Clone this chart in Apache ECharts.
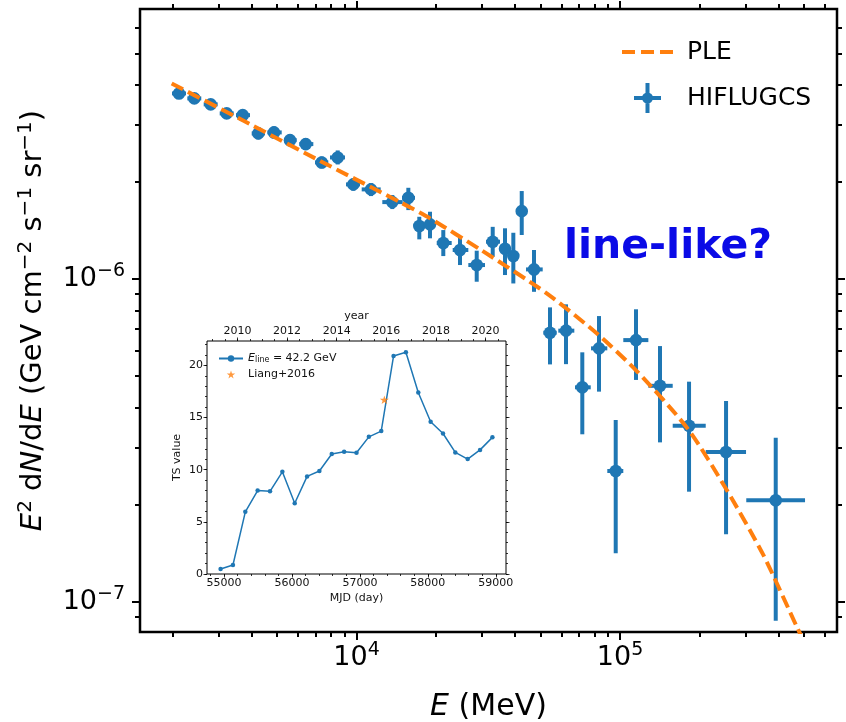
<!DOCTYPE html>
<html>
<head>
<meta charset="utf-8">
<script src="https://cdn.jsdelivr.net/npm/echarts@6.0.0/dist/echarts.min.js"></script>
<style>
html, body { margin: 0; padding: 0; background: #fff; }
#container { width: 846px; height: 722px; }
</style>
</head>
<body>
<div id="container"></div>
<script>
// ---- spectrum (HIFLUGCS stacked), E in MeV, E^2 dN/dE in GeV cm^-2 s^-1 sr^-1
var energy   = [2120, 2424, 2797, 3217, 3700, 4240, 4863, 5593, 6417, 7379, 8487, 9725, 11350, 13675, 15730, 17310, 19010, 21350, 24710, 28590, 32880, 36610, 39370, 42370, 47170, 54250, 62390, 71930, 83240, 96320, 115000, 141830, 182800, 252600, 389900];
var energyLo = [1994, 2280, 2631, 3026, 3489, 4002, 4587, 5308, 6066, 6959, 7932, 9125, 10465, 12530, 14885, 16672, 18197, 20159, 23177, 26570, 31010, 35040, 37900, 41000, 43990, 51160, 58320, 67490, 77630, 89490, 102920, 128100, 158490, 211500, 301400];
var energyHi = [2254, 2576, 2973, 3420, 3943, 4495, 5202, 5931, 6857, 7816, 9045, 10310, 12354, 14975, 16672, 18040, 19860, 22975, 26570, 30740, 35040, 38230, 40800, 43700, 50890, 57520, 67080, 77430, 89490, 102920, 128100, 158490, 211500, 300800, 503700];
var flux   = [3.757e-6, 3.626e-6, 3.475e-6, 3.258e-6, 3.218e-6, 2.825e-6, 2.845e-6, 2.692e-6, 2.618e-6, 2.297e-6, 2.380e-6, 1.964e-6, 1.895e-6, 1.731e-6, 1.785e-6, 1.459e-6, 1.477e-6, 1.293e-6, 1.230e-6, 1.105e-6, 1.305e-6, 1.241e-6, 1.178e-6, 1.623e-6, 1.071e-6, 6.82e-7, 6.92e-7, 4.62e-7, 6.10e-7, 2.544e-7, 6.47e-7, 4.67e-7, 3.514e-7, 2.913e-7, 2.065e-7];
var fluxLo = [3.625e-6, 3.499e-6, 3.353e-6, 3.144e-6, 3.105e-6, 2.707e-6, 2.726e-6, 2.579e-6, 2.508e-6, 2.201e-6, 2.264e-6, 1.877e-6, 1.807e-6, 1.647e-6, 1.635e-6, 1.327e-6, 1.337e-6, 1.178e-6, 1.105e-6, 9.81e-7, 1.172e-6, 1.029e-6, 9.69e-7, 1.369e-6, 9.13e-7, 5.44e-7, 5.45e-7, 3.305e-7, 4.48e-7, 1.415e-7, 4.87e-7, 3.12e-7, 2.195e-7, 1.621e-7, 8.75e-8];
var fluxHi = [3.893e-6, 3.758e-6, 3.601e-6, 3.376e-6, 3.335e-6, 2.948e-6, 2.969e-6, 2.810e-6, 2.732e-6, 2.397e-6, 2.502e-6, 2.050e-6, 1.982e-6, 1.820e-6, 1.917e-6, 1.559e-6, 1.616e-6, 1.418e-6, 1.346e-6, 1.224e-6, 1.451e-6, 1.436e-6, 1.391e-6, 1.873e-6, 1.230e-6, 8.17e-7, 8.35e-7, 5.93e-7, 7.68e-7, 3.66e-7, 8.06e-7, 6.20e-7, 4.81e-7, 4.19e-7, 3.226e-7];

// PLE model curve
var pleEnergy = [1989, 3943, 7932, 14630, 19010, 29420, 52700, 81560, 115700, 181200, 254100, 349800, 468300, 494900];
var pleFlux   = [4.035e-6, 3.018e-6, 2.238e-6, 1.731e-6, 1.541e-6, 1.236e-6, 9.03e-7, 6.79e-7, 5.19e-7, 3.43e-7, 2.222e-7, 1.398e-7, 8.39e-8, 7.63e-8];

// ---- inset: TS of the 42.2 GeV line vs time
var mjd = [54950, 55132, 55314, 55495, 55677, 55859, 56041, 56223, 56404, 56586, 56768, 56950, 57132, 57314, 57495, 57677, 57859, 58041, 58223, 58404, 58586, 58768, 58950];
var tsValue = [0.48, 0.86, 5.96, 8.0, 7.93, 9.8, 6.78, 9.36, 9.87, 11.5, 11.72, 11.62, 13.15, 13.7, 20.9, 21.27, 17.4, 14.6, 13.47, 11.66, 11.02, 11.9, 13.1];
var liangMjd = [57360];
var liangTs = [16.7];

// ---- axis ticks
var xMajor = [1e4, 1e5];
var xMinor = [2000, 3000, 4000, 5000, 6000, 7000, 8000, 9000, 20000, 30000, 40000, 50000, 60000, 70000, 80000, 90000, 200000, 300000, 400000, 500000, 600000];
var yMajor = [1e-7, 1e-6];
var yMinor = [9e-8, 2e-7, 3e-7, 4e-7, 5e-7, 6e-7, 7e-7, 8e-7, 9e-7, 2e-6, 3e-6, 4e-6, 5e-6, 6e-6];
var mjdMajor = [55000, 56000, 57000, 58000, 59000];
var yearMajor = [2010, 2012, 2014, 2016, 2018, 2020];
var tsMajor = [0, 5, 10, 15, 20];

var mjdMinor = [], yearMinor = [], tsMinor = [];
for (var m = 54800; m <= 59100; m += 200) mjdMinor.push(m);
for (var yr = 2009; yr <= 2020.8; yr += 0.5) yearMinor.push(yr);
for (var t = 0; t <= 22; t += 1) tsMinor.push(t);

var xMin = 1508, xMax = 6.66e5, yMin = 8.07e-8, yMax = 6.86e-6;
var mjdMin = 54750, mjdMax = 59150, yearMin = 2008.776, yearMax = 2020.822, tsMin = 0, tsMax = 22.34;

var FONT = 'DejaVu Sans';
var BLUE = '#1f77b4', ORANGE = '#ff7f0e';

var dom = document.getElementById('container');
var myChart = echarts.init(dom);

function powLabel(v) {
    var e = Math.round(Math.log10(v));
    return '{b|10}{s|' + (e < 0 ? '\u2212' + (-e) : e) + '}';
}
var powRich = {
    b: { fontFamily: FONT, fontSize: 27, color: '#000', lineHeight: 34 },
    s: { fontFamily: FONT, fontSize: 19, color: '#000', verticalAlign: 'top', lineHeight: 19 }
};

function mainAxis(dim, pos, vals, len, withLabels) {
    return {
        gridIndex: 0, type: 'log', logBase: 10, position: pos,
        min: dim === 'x' ? xMin : yMin, max: dim === 'x' ? xMax : yMax,
        splitLine: { show: false }, axisLine: { show: false, onZero: false },
        axisTick: { show: true, customValues: vals, length: len, lineStyle: { color: '#000', width: 2 } },
        axisLabel: withLabels ? { customValues: vals, formatter: powLabel, rich: powRich, margin: dim === 'x' ? 9 : 15 } : { show: false },
        axisPointer: { show: false }
    };
}

function insetAxis(pos, min, max, vals, len, withLabels) {
    return {
        gridIndex: 1, type: 'value', position: pos, min: min, max: max,
        splitLine: { show: false }, axisLine: { show: false, onZero: false },
        axisTick: { show: true, customValues: vals, length: len, lineStyle: { color: '#000', width: 0.8 } },
        axisLabel: withLabels ? {
            customValues: vals, margin: 4, fontFamily: FONT, fontSize: 11, color: '#111',
            formatter: function (v) { return String(Math.round(v)); }
        } : { show: false },
        axisPointer: { show: false }
    };
}

var xAxes = [
    mainAxis('x', 'bottom', xMajor, 8, true),
    mainAxis('x', 'bottom', xMinor, 5, false),
    mainAxis('x', 'top', xMajor, 8, false),
    mainAxis('x', 'top', xMinor, 5, false),
    insetAxis('bottom', mjdMin, mjdMax, mjdMajor, 3.5, true),
    insetAxis('bottom', mjdMin, mjdMax, mjdMinor, 2, false),
    insetAxis('top', yearMin, yearMax, yearMajor, 3.5, true),
    insetAxis('top', yearMin, yearMax, yearMinor, 2, false)
];
xAxes[0].name = '{i|E} (MeV)';
xAxes[0].nameLocation = 'middle';
xAxes[0].nameGap = 60;
xAxes[0].nameTextStyle = { fontFamily: FONT, fontSize: 30, color: '#000', rich: { i: { fontFamily: FONT, fontSize: 30, fontStyle: 'italic', color: '#000' } } };
xAxes[4].name = 'MJD (day)';
xAxes[4].nameLocation = 'middle';
xAxes[4].nameGap = 19;
xAxes[4].nameTextStyle = { fontFamily: FONT, fontSize: 11, color: '#111' };
xAxes[6].name = 'year';
xAxes[6].nameLocation = 'middle';
xAxes[6].nameGap = 19;
xAxes[6].nameTextStyle = { fontFamily: FONT, fontSize: 11, color: '#111' };

var yAxes = [
    mainAxis('y', 'left', yMajor, 8, true),
    mainAxis('y', 'left', yMinor, 5, false),
    mainAxis('y', 'right', yMajor, 8, false),
    mainAxis('y', 'right', yMinor, 5, false),
    insetAxis('left', tsMin, tsMax, tsMajor, 3.5, true),
    insetAxis('left', tsMin, tsMax, tsMinor, 2, false),
    insetAxis('right', tsMin, tsMax, tsMajor, 3.5, false),
    insetAxis('right', tsMin, tsMax, tsMinor, 2, false)
];
yAxes[0].name = '{i|E}{s|2} d{i|N}/d{i|E} (GeV cm{s|\u22122} s{s|\u22121} sr{s|\u22121})';
yAxes[0].nameLocation = 'middle';
yAxes[0].nameGap = 83;
yAxes[0].nameRotate = 90;
yAxes[0].nameTextStyle = {
    fontFamily: FONT, fontSize: 29, color: '#000', lineHeight: 36,
    rich: {
        i: { fontFamily: FONT, fontSize: 29, fontStyle: 'italic', color: '#000', lineHeight: 36 },
        s: { fontFamily: FONT, fontSize: 20, color: '#000', verticalAlign: 'top', lineHeight: 20 }
    }
};
yAxes[4].name = 'TS value';
yAxes[4].nameLocation = 'middle';
yAxes[4].nameGap = 24;
yAxes[4].nameRotate = 90;
yAxes[4].nameTextStyle = { fontFamily: FONT, fontSize: 11, color: '#111' };

var pointData = energy.map(function (e, i) {
    return [e, flux[i], energyLo[i], energyHi[i], fluxLo[i], fluxHi[i]];
});
var pleData = pleEnergy.map(function (e, i) { return [e, pleFlux[i]]; });
var tsData = mjd.map(function (d, i) { return [d, tsValue[i]]; });
var liangData = liangMjd.map(function (d, i) { return [d, liangTs[i]]; });

var starPath = 'path://M0,-10 L2.245,-3.09 L9.51,-3.09 L3.633,1.18 L5.88,8.09 L0,3.82 L-5.88,8.09 L-3.633,1.18 L-9.51,-3.09 L-2.245,-3.09 Z';
// legend glyphs in a 51 x 30 box (tiny segments pin the box size)
var errIcon = 'path://M0,15 L0.01,15 Z M51,15 L50.99,15 Z M12,13 L39,13 L39,17 L12,17 Z M23.5,0 L27.5,0 L27.5,30 L23.5,30 Z M31,15 A5.5,5.5 0 1 1 20,15 A5.5,5.5 0 1 1 31,15 Z';
var dashIcon = 'path://M0,0 L0.01,0 Z M0,30 L0.01,30 Z M0,13 L13,13 L13,17 L0,17 Z M19,13 L32,13 L32,17 L19,17 Z M38,13 L51,13 L51,17 L38,17 Z';

option = {
    backgroundColor: '#fff',
    animation: false,
    grid: [
        { left: 140, top: 9, right: 9, bottom: 90, show: true, borderColor: '#000', borderWidth: 2.5, backgroundColor: 'transparent', containLabel: false, outerBoundsMode: 'none' },
        { left: 207, top: 341, width: 299, height: 233, show: true, borderColor: '#000', borderWidth: 1, backgroundColor: '#fff', containLabel: false, outerBoundsMode: 'none' }
    ],
    xAxis: xAxes,
    yAxis: yAxes,
    legend: [{
        data: [{ name: 'PLE', icon: dashIcon }, { name: 'HIFLUGCS', icon: errIcon }],
        orient: 'vertical', left: 617, top: 32,
        itemWidth: 51, itemHeight: 30, itemGap: 16,
        selectedMode: false,
        textStyle: { fontFamily: FONT, fontSize: 25, color: '#000', padding: [0, 0, 0, 9] }
    }, {
        data: [{ name: 'Eline' }, { name: 'Liang+2016' }],
        orient: 'vertical', left: 213, top: 348,
        itemWidth: 24, itemHeight: 8, itemGap: 5,
        selectedMode: false,
        formatter: function (n) { return n === 'Eline' ? '{i|E}{sub|line} = 42.2 GeV' : n; },
        textStyle: {
            fontFamily: FONT, fontSize: 11, color: '#111',
            rich: {
                i: { fontFamily: FONT, fontSize: 11, fontStyle: 'italic', color: '#111' },
                sub: { fontFamily: FONT, fontSize: 8, color: '#111', verticalAlign: 'bottom', lineHeight: 8 }
            }
        }
    }],
    graphic: [{
        type: 'text', left: 564, top: 227, z: 10,
        style: { text: 'line-like?', fill: '#0a0ae6', fontFamily: FONT, fontWeight: 'bold', fontSize: 41 }
    }],
    series: [{
        name: 'PLE',
        type: 'line',
        xAxisIndex: 0, yAxisIndex: 0,
        data: pleData,
        showSymbol: false, symbol: 'none',
        smooth: 0.25,
        clip: true,
        z: 3,
        lineStyle: { color: ORANGE, width: 4, type: [13, 5.6] },
        itemStyle: { color: ORANGE }
    }, {
        name: 'HIFLUGCS',
        type: 'custom',
        xAxisIndex: 0, yAxisIndex: 0,
        data: pointData,
        encode: { x: 0, y: 1 },
        clip: true,
        z: 2,
        itemStyle: { color: BLUE },
        renderItem: function (params, api) {
            var c = api.coord([api.value(0), api.value(1)]);
            var xl = api.coord([api.value(2), api.value(1)]);
            var xh = api.coord([api.value(3), api.value(1)]);
            var yl = api.coord([api.value(0), api.value(4)]);
            var yh = api.coord([api.value(0), api.value(5)]);
            return {
                type: 'group',
                children: [
                    { type: 'line', shape: { x1: xl[0], y1: c[1], x2: xh[0], y2: c[1] }, style: { stroke: BLUE, lineWidth: 4 } },
                    { type: 'line', shape: { x1: c[0], y1: yl[1], x2: c[0], y2: yh[1] }, style: { stroke: BLUE, lineWidth: 4 } },
                    { type: 'circle', shape: { cx: c[0], cy: c[1], r: 6.3 }, style: { fill: BLUE } }
                ]
            };
        }
    }, {
        name: 'Eline',
        type: 'line',
        xAxisIndex: 4, yAxisIndex: 4,
        data: tsData,
        symbol: 'circle', symbolSize: 4.5,
        z: 6,
        lineStyle: { color: BLUE, width: 1.5 },
        itemStyle: { color: BLUE }
    }, {
        name: 'Liang+2016',
        type: 'scatter',
        xAxisIndex: 4, yAxisIndex: 4,
        data: liangData,
        symbol: starPath, symbolSize: 9, symbolKeepAspect: true,
        z: 7,
        itemStyle: { color: ORANGE }
    }]
};
myChart.setOption(option);

window.addEventListener('resize', function () {
    myChart.resize();
});
</script>
</body>
</html>
